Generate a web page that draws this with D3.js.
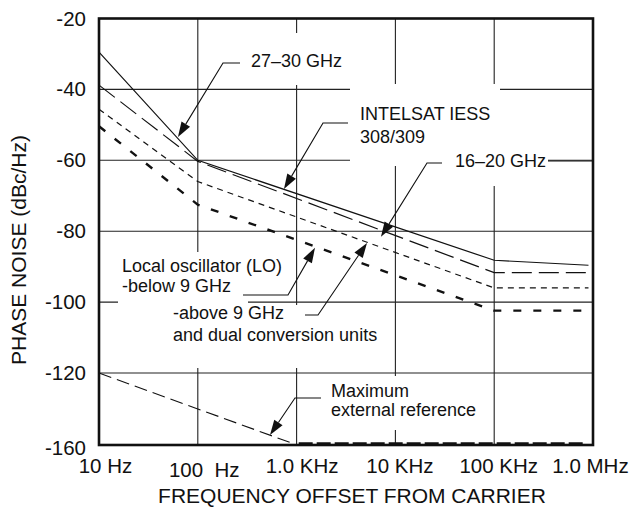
<!DOCTYPE html>
<html>
<head>
<meta charset="utf-8">
<script src="https://cdn.jsdelivr.net/npm/d3@7"></script>
<style>
  body { margin: 0; background: #fff; }
  svg { display: block; font-family: "Liberation Sans", Arial, sans-serif; }
</style>
</head>
<body>
<svg id="chart" width="631" height="508"></svg>
<script>
// ---- data ----
const freqs = [10, 100, 1e5, 9e5];               // Hz
const ghz2730 = [-29.5, -60, -88.2, -89.6];      // solid
const intelsat = [-38.8, -60.3, -91.7, -91.7];   // long dash
const above9 = [-45.6, -66, -96, -96];           // short dash
const below9 = [-50.4, -72.5, -102.4, -102.4];   // bold dash
const extRefFreqs = [10, 850];
const extRefSlope = [-120, -158.5];
const extFloorFreqs = [1050, 8e5];
const extFloor = [-159, -159];

const xTicks = [10, 100, 1e3, 1e4, 1e5, 1e6];
const xTickLabels = ['10 Hz', '100  Hz', '1.0 KHz', '10 KHz', '100 KHz', '1.0 MHz'];
const yTicks = [-20, -40, -60, -80, -100, -120, -160];

// ---- layout ----
const width = 631;
const height = 508;
const margin = { top: 18.5, right: 38, bottom: 63, left: 99 };
const axisFont = 20.5;
const noteFont = 18;
const xNudge = [6, 6, 5, 4, 4, -3];
const yNudge = [0, 4, 0, 0, 0, 0];

const svg = d3.select('#chart');

const x = d3.scaleLog()
    .domain([10, 1e6])
    .range([margin.left, width - margin.right]);

// the axis is compressed below -120
const y = d3.scaleLinear()
    .domain([-160, -120, -20])
    .range([height - margin.bottom, 373, margin.top]);

// gridlines
svg.append('g')
    .selectAll('line')
    .data(xTicks.slice(1, -1))
    .join('line')
    .attr('x1', d => x(d)).attr('x2', d => x(d))
    .attr('y1', y(-20)).attr('y2', y(-160))
    .attr('stroke', '#222').attr('stroke-width', 1.1);

svg.append('g')
    .selectAll('line')
    .data(yTicks.slice(1, -1))
    .join('line')
    .attr('x1', x(10)).attr('x2', x(1e6))
    .attr('y1', d => y(d)).attr('y2', d => y(d))
    .attr('stroke', '#222').attr('stroke-width', 1.1);

// white boxes behind the labels (they break the grid)
const boxes = [
    [240, 33, 110, 52],
    [350, 84, 150, 82],
    [445, 140, 103, 46],
    [118, 252, 172, 26],
    [118, 278, 130, 27],
    [165, 305, 223, 63],
    [320, 376, 170, 54]
];
svg.append('g')
    .selectAll('rect')
    .data(boxes)
    .join('rect')
    .attr('x', d => d[0]).attr('y', d => d[1])
    .attr('width', d => d[2]).attr('height', d => d[3])
    .attr('fill', '#fff');

// frame
svg.append('rect')
    .attr('x', x(10)).attr('y', y(-20))
    .attr('width', x(1e6) - x(10)).attr('height', y(-160) - y(-20))
    .attr('fill', 'none').attr('stroke', '#111').attr('stroke-width', 2.6);

// curves
const line = d3.line().x(d => x(d[0])).y(d => y(d[1]));
const series = [
    { f: freqs, v: ghz2730, dash: null, w: 1.2 },
    { f: freqs, v: intelsat, dash: '20,7', w: 1.2 },
    { f: freqs, v: above9, dash: '6,5', w: 1.2 },
    { f: freqs, v: below9, dash: '8,12', w: 2.4 },
    { f: extRefFreqs, v: extRefSlope, dash: '13,6', w: 1.1 },
    { f: extFloorFreqs, v: extFloor, dash: '14,4', w: 2 }
];
svg.append('g')
    .selectAll('path')
    .data(series)
    .join('path')
    .attr('d', s => line(s.f.map((f, i) => [f, s.v[i]])))
    .attr('fill', 'none')
    .attr('stroke', '#111')
    .attr('stroke-width', s => s.w)
    .attr('stroke-dasharray', s => s.dash);

// axes
const yAxis = svg.append('g')
    .attr('transform', `translate(${x(10)},0)`)
    .call(d3.axisLeft(y).tickValues(yTicks).tickSize(0).tickPadding(13)
        .tickFormat(d => String(d)));
yAxis.select('.domain').remove();
yAxis.selectAll('text')
    .attr('font-size', axisFont).attr('font-family', null).attr('fill', '#111')
    .attr('dy', d => d === -160 ? '0.47em' : '0.32em');

const xAxis = svg.append('g')
    .attr('transform', `translate(0,${y(-160)})`)
    .call(d3.axisBottom(x).tickValues(xTicks).tickSize(0).tickPadding(8)
        .tickFormat((d, i) => xTickLabels[i]));
xAxis.select('.domain').remove();
xAxis.selectAll('text')
    .attr('font-size', axisFont).attr('font-family', null).attr('fill', '#111')
    .style('white-space', 'pre')
    .attr('dx', (d, i) => xNudge[i])
    .attr('dy', null)
    .attr('y', (d, i) => 28 + yNudge[i]);

svg.append('text')
    .attr('x', 352).attr('y', 503)
    .attr('text-anchor', 'middle')
    .attr('font-size', 21).attr('fill', '#111')
    .text('FREQUENCY OFFSET FROM CARRIER');

svg.append('text')
    .attr('transform', 'translate(26,250) rotate(-90)')
    .attr('text-anchor', 'middle')
    .attr('font-size', 21).attr('fill', '#111')
    .text('PHASE NOISE (dBc/Hz)');

// annotations: text lines, leader path (pixels) ending at a tip given in data units
const notes = [
    { lines: ['27–30 GHz'], tx: 251, ty: 67, lh: 0, leader: [[240, 63], [223, 63]], tip: [63, -53.4] },
    { lines: ['INTELSAT IESS', '308/309'], tx: 360, ty: 120, lh: 23, leader: [[348, 123], [323, 123]], tip: [745, -68.1] },
    { lines: ['16–20 GHz'], tx: 455, ty: 167, lh: 0, leader: [[442, 163], [427, 163]], tip: [7140, -81.6] },
    { lines: ['Local oscillator (LO)', '-below 9 GHz'], tx: 122, ty: 272, lh: 20, leader: [[243, 295], [288, 295]], tip: [1535, -84.7] },
    { lines: ['-above 9 GHz', 'and dual conversion units'], tx: 173, ty: 319, lh: 22, leader: [[305, 315], [318, 315]], tip: [5160, -83.3] },
    { lines: ['Maximum', 'external reference'], tx: 331, ty: 397, lh: 19, leader: [[321, 398], [295, 398]], tip: [538, -154.4] }
];

const noteG = svg.append('g');
notes.forEach(n => {
    const t = noteG.append('text')
        .attr('font-size', noteFont).attr('fill', '#111');
    n.lines.forEach((s, i) => {
        t.append('tspan').attr('x', n.tx).attr('y', n.ty + i * n.lh).text(s);
    });
    const tip = [x(n.tip[0]), y(n.tip[1])];
    const last = n.leader[n.leader.length - 1];
    const ang = Math.atan2(tip[1] - last[1], tip[0] - last[0]);
    const len = 15, hw = 5;
    const base = [tip[0] - len * Math.cos(ang), tip[1] - len * Math.sin(ang)];
    noteG.append('path')
        .attr('d', d3.line()(n.leader.concat([base])))
        .attr('fill', 'none').attr('stroke', '#111').attr('stroke-width', 1.1);
    noteG.append('path')
        .attr('d', d3.line()([
            tip,
            [base[0] + hw * Math.sin(ang), base[1] - hw * Math.cos(ang)],
            [base[0] - hw * Math.sin(ang), base[1] + hw * Math.cos(ang)]
        ]) + 'Z')
        .attr('fill', '#111');
});

// right-hand leader of the 16-20 GHz label
svg.append('line')
    .attr('x1', 548).attr('x2', x(1e6))
    .attr('y1', 161).attr('y2', 161)
    .attr('stroke', '#111').attr('stroke-width', 1.1);
</script>
</body>
</html>
